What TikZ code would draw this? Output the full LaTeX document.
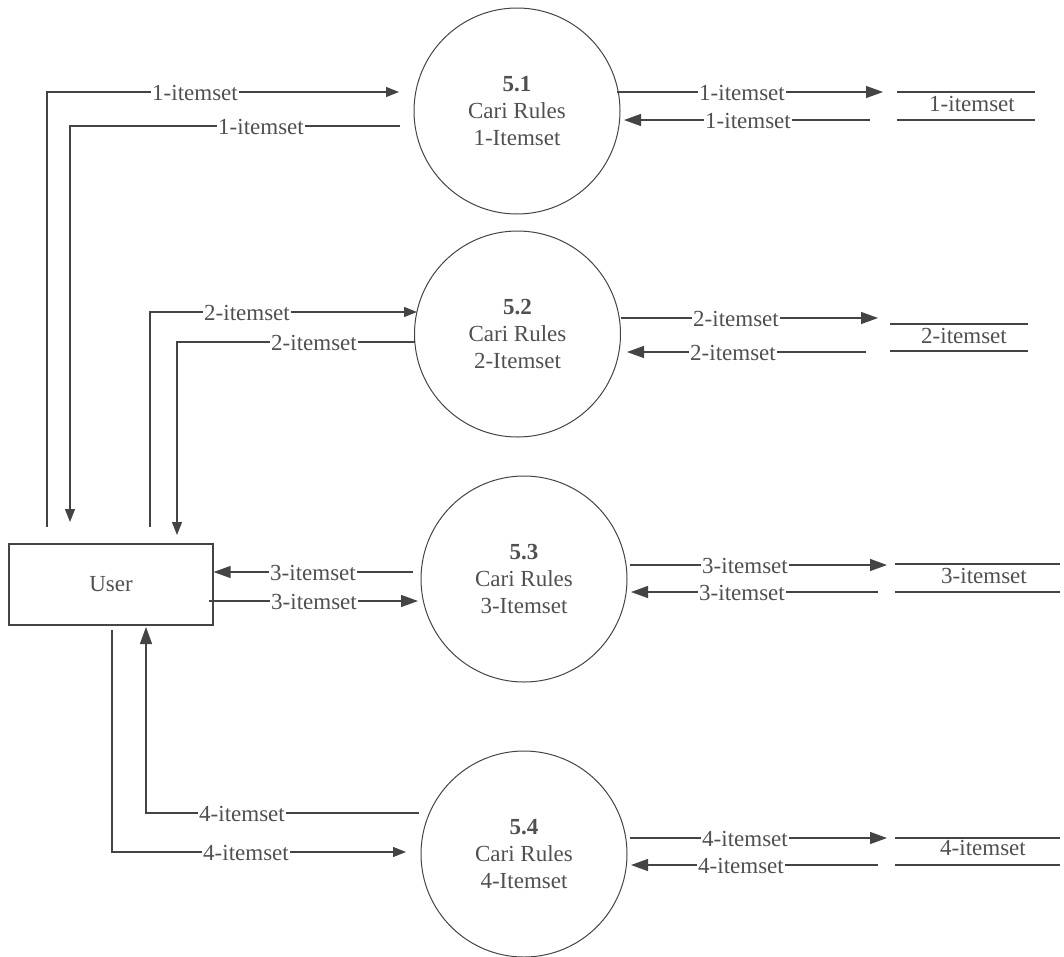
\documentclass[tikz,border=0pt]{standalone}
\usepackage{fontspec}
\setmainfont{Liberation Serif}
\usetikzlibrary{arrows.meta}
\definecolor{ln}{HTML}{444444}
\definecolor{tx}{HTML}{505050}

\begin{document}
\begin{tikzpicture}[x=1pt,y=-1pt,
  every node/.style={text=tx, font=\fontsize{23}{27}\selectfont},
  proc/.style={draw=ln, line width=1pt, circle, minimum size=206pt, inner sep=0pt, align=center},
  entity/.style={draw=ln, line width=1.2pt, minimum width=204pt, minimum height=81pt, inner sep=0pt},
  flow/.style={draw=ln, line width=1.3pt},
  arr/.style={flow, -{Triangle[length=17pt,width=12pt]}},
  arrs/.style={flow, -{Triangle[length=13pt,width=10pt]}},
  lbl/.style={fill=white, inner sep=1pt, anchor=base, yshift=-8.5pt},
  storetxt/.style={inner sep=0pt, anchor=base},
  storeline/.style={draw=ln, line width=1.5pt}]

\useasboundingbox (0,0) rectangle (1064,956);

% external entity
\node[entity] (user) at (111,584.5) {User};

% processes
\node[proc] (p1) at (517,111)   {\textbf{5.1}\\Cari Rules\\1-Itemset};
\node[proc] (p2) at (517.5,334) {\textbf{5.2}\\Cari Rules\\2-Itemset};
\node[proc] (p3) at (524,579)   {\textbf{5.3}\\Cari Rules\\3-Itemset};
\node[proc] (p4) at (524,854)   {\textbf{5.4}\\Cari Rules\\4-Itemset};

% data stores
\node[storetxt] (s1) at (972,111) {1-itemset};
\node[storetxt] (s2) at (964,343) {2-itemset};
\node[storetxt] (s3) at (984,583) {3-itemset};
\node[storetxt] (s4) at (983,855) {4-itemset};
\draw[storeline] (897,92) -- (1035,92) (897,120) -- (1035,120);
\draw[storeline] (890,324) -- (1028,324) (890,351) -- (1028,351);
\draw[storeline] (895,564) -- (1060,564) (895,592) -- (1060,592);
\draw[storeline] (895,838) -- (1060,838) (895,865) -- (1060,865);

% user <-> process flows
\draw[arrs] (47,527) |- (399,92);
\node[lbl] (fa) at (195,92) {1-itemset};
\draw[arrs] (400,126) -| (70,522);
\node[lbl] (fb) at (261,126) {1-itemset};

\draw[arrs] (150,527) |- (417,312);
\node[lbl] (fc) at (247,312) {2-itemset};
\draw[arrs] (415,342) -| (177,535);
\node[lbl] (fd) at (314,342) {2-itemset};

\draw[arr] (413,572) -- (user.east |- 0,572);
\node[lbl] (fe) at (313,572) {3-itemset};
\draw[arr] (209,601) -- (418,601);
\node[lbl] (ff) at (314,601) {3-itemset};

\draw[arrs] (112,630) |- (406,852);
\node[lbl] (fg) at (246,852) {4-itemset};
\draw[arr] (419,813) -| (146,627);
\node[lbl] (fh) at (242,813) {4-itemset};

% process <-> store flows
\draw[arr] (617,92) -- (883,92);
\node[lbl] (r1a) at (742,92) {1-itemset};
\draw[arr] (870,120) -- (624,120);
\node[lbl] (r1b) at (748,120) {1-itemset};

\draw[arr] (621,318) -- (878,318);
\node[lbl] (r2a) at (736,318) {2-itemset};
\draw[arr] (866,352) -- (627,352);
\node[lbl] (r2b) at (733,352) {2-itemset};

\draw[arr] (630,565) -- (887,565);
\node[lbl] (r3a) at (745,565) {3-itemset};
\draw[arr] (878,592) -- (631,592);
\node[lbl] (r3b) at (742,592) {3-itemset};

\draw[arr] (630,838) -- (887,838);
\node[lbl] (r4a) at (745,838) {4-itemset};
\draw[arr] (878,865) -- (631,865);
\node[lbl] (r4b) at (741,865) {4-itemset};
\end{tikzpicture}
\end{document}
